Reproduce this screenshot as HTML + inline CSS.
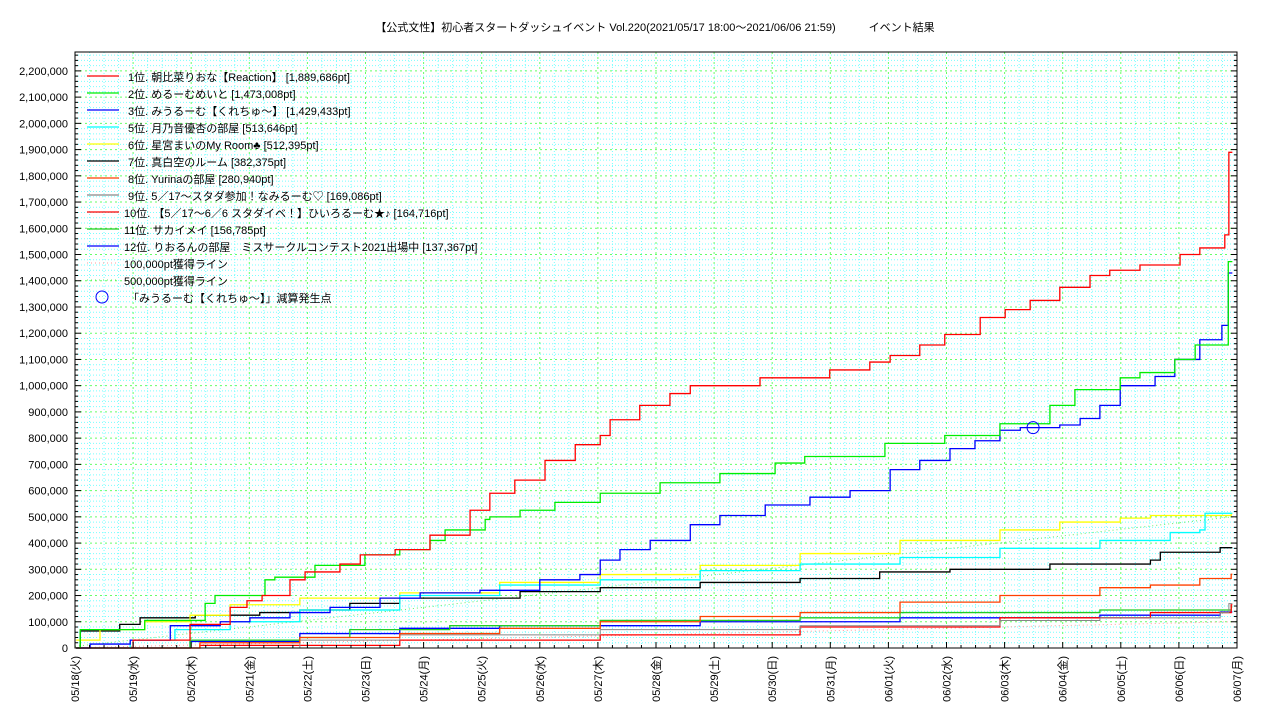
<!DOCTYPE html>
<html><head><meta charset="utf-8">
<style>
html,body{margin:0;padding:0;background:#fff;}
svg{display:block;font-family:"Liberation Sans","Noto Sans CJK JP",sans-serif;}
</style></head>
<body>
<svg id="chart" width="1280" height="720" xmlns="http://www.w3.org/2000/svg">
<rect x="0" y="0" width="1280" height="720" fill="#fff"/>
<text x="655" y="31" font-size="11" text-anchor="middle" fill="#000">【公式文性】初心者スタートダッシュイベント Vol.220(2021/05/17 18:00〜2021/06/06 21:59)　　　イベント結果</text>
<g id="grid"></g>
<g id="ref"></g>
<g id="series"></g>
<g id="axes"></g>
<g id="legend"></g>
</svg>
<script>
const dayLabels = ["05/18(火)","05/19(水)","05/20(木)","05/21(金)","05/22(土)","05/23(日)","05/24(月)","05/25(火)","05/26(水)","05/27(木)","05/28(金)","05/29(土)","05/30(日)","05/31(月)","06/01(火)","06/02(水)","06/03(木)","06/04(金)","06/05(土)","06/06(日)","06/07(月)"];
const yTicks = [0,100000,200000,300000,400000,500000,600000,700000,800000,900000,1000000,1100000,1200000,1300000,1400000,1500000,1600000,1700000,1800000,1900000,2000000,2100000,2200000];
const seriesNames = ["1位. 朝比菜りおな【Reaction】 [1,889,686pt]","2位. めるーむめいと [1,473,008pt]","3位. みうるーむ【くれちゅ〜】 [1,429,433pt]","5位. 月乃音優杏の部屋 [513,646pt]","6位. 星宮まいのMy Room♣ [512,395pt]","7位. 真白空のルーム [382,375pt]","8位. Yurinaの部屋 [280,940pt]","9位. 5／17〜スタダ参加！なみるーむ♡ [169,086pt]","10位. 【5／17〜6／6 スタダイベ！】ひいろるーむ★♪ [164,716pt]","11位. サカイメイ [156,785pt]","12位. りおるんの部屋　ミスサークルコンテスト2021出場中 [137,367pt]"];
const s1 = [[0.02,0],[1.0,30000],[1.98,90000],[2.67,155000],[2.96,180000],[3.22,200000],[3.70,260000],[3.96,290000],[4.56,320000],[4.91,355000],[5.51,375000],[6.11,430000],[6.80,525000],[7.14,590000],[7.57,640000],[8.09,715000],[8.61,775000],[9.04,810000],[9.21,870000],[9.72,925000],[10.24,970000],[10.59,1000000],[11.79,1030000],[12.99,1060000],[13.68,1090000],[14.03,1115000],[14.54,1155000],[14.97,1195000],[15.58,1260000],[16.01,1290000],[16.44,1325000],[16.95,1375000],[17.47,1420000],[17.81,1440000],[18.33,1460000],[19.02,1500000],[19.36,1525000],[19.79,1575000],[19.86,1889686],[19.92,1889686]];
const s2 = [[0.02,0],[0.09,70000],[1.20,105000],[2.24,170000],[2.41,200000],[3.27,260000],[3.44,270000],[4.13,315000],[4.99,355000],[5.59,375000],[6.11,410000],[6.37,450000],[7.06,490000],[7.14,500000],[7.66,525000],[8.26,555000],[9.04,590000],[10.07,630000],[11.10,665000],[12.05,705000],[12.56,730000],[13.94,780000],[14.97,810000],[15.92,855000],[16.78,925000],[17.21,985000],[17.99,1030000],[18.33,1050000],[18.93,1100000],[19.28,1155000],[19.85,1473008],[19.92,1473008]];
const s3 = [[0.02,0],[0.26,15000],[0.95,30000],[1.64,85000],[2.50,100000],[3.01,115000],[3.70,135000],[4.39,155000],[5.25,190000],[5.94,210000],[6.97,220000],[8.00,260000],[8.69,280000],[9.04,335000],[9.38,375000],[9.90,410000],[10.59,470000],[11.10,505000],[11.88,545000],[12.65,575000],[13.34,600000],[14.03,680000],[14.54,715000],[15.06,760000],[15.49,790000],[15.92,830000],[16.27,840000],[16.95,850000],[17.30,875000],[17.64,925000],[17.99,1000000],[18.59,1035000],[18.93,1100000],[19.36,1175000],[19.74,1230000],[19.85,1429433],[19.92,1429433]];
const s5 = [[0.02,0],[0.95,30000],[1.72,70000],[2.67,100000],[3.87,145000],[5.59,200000],[7.31,240000],[9.04,260000],[10.76,295000],[12.48,320000],[14.20,345000],[15.92,380000],[17.64,410000],[18.85,440000],[19.36,450000],[19.45,513646],[19.92,513646]];
const s6 = [[0.02,30000],[0.43,70000],[1.20,100000],[1.98,125000],[2.67,165000],[3.87,190000],[5.59,210000],[7.31,250000],[9.04,280000],[10.76,315000],[12.48,360000],[14.20,410000],[15.92,450000],[16.95,480000],[17.99,495000],[18.51,505000],[19.9,512395],[19.92,512395]];
const s7 = [[0.02,0],[0.09,65000],[0.77,90000],[1.12,115000],[2.07,125000],[3.18,135000],[3.87,145000],[4.73,170000],[5.59,190000],[7.66,215000],[9.04,230000],[10.76,250000],[12.48,265000],[13.85,290000],[15.06,300000],[16.78,320000],[18.51,335000],[18.68,365000],[19.71,382375],[19.92,382375]];
const s8 = [[0.02,0],[2.15,20000],[3.87,40000],[5.59,55000],[7.31,75000],[9.04,100000],[10.76,120000],[12.48,135000],[14.20,175000],[15.92,200000],[17.64,230000],[18.51,240000],[19.36,265000],[19.9,280940],[19.92,280940]];
const s9 = [[0.02,0],[3.87,30000],[5.59,50000],[9.04,70000],[12.48,85000],[15.92,105000],[17.64,115000],[19.71,135000],[19.86,169086],[19.92,169086]];
const s10 = [[0.02,0],[2.15,10000],[5.59,30000],[9.04,50000],[12.48,80000],[15.92,115000],[18.51,135000],[19.9,164716],[19.92,164716]];
const s11 = [[0.02,0],[1.98,30000],[3.87,40000],[4.73,70000],[6.45,85000],[9.04,105000],[12.48,115000],[14.20,135000],[17.64,145000],[19.9,156785],[19.92,156785]];
const s12 = [[0.02,0],[1.98,25000],[3.87,55000],[5.59,75000],[7.31,85000],[10.76,100000],[14.20,115000],[17.64,125000],[19.71,137367],[19.92,137367]];
const refLineTargets = [100000,500000];
const refLineSpan = [-0.25,19.92];
const dropPoint = [16.49,840000];

const L=75,R=1237,T=52,B=648,DAYS=20,YMAX=2272000;
const X=d=>L+(d/DAYS)*(R-L);
const Y=v=>B-(v/YMAX)*(B-T);
const NS="http://www.w3.org/2000/svg";
function mk(tag,parent){const e=document.createElementNS(NS,tag);parent.appendChild(e);return e;}
const grid=document.getElementById('grid'),axes=document.getElementById('axes'),ser=document.getElementById('series'),ref=document.getElementById('ref'),leg=document.getElementById('legend');

for(let q=1;q<DAYS*4;q++){if(q%4===0)continue;const l=mk('line',grid);


const x=X(q/4);l.setAttribute('x1',x);l.setAttribute('x2',x);l.setAttribute('y1',T);l.setAttribute('y2',B);l.setAttribute('stroke','#7ff');l.setAttribute('stroke-width','1');l.setAttribute('stroke-dasharray','1,2');}
for(let v=20000;v<YMAX;v+=20000){if(v%100000===0)continue;const l=mk('line',grid);


const y=Y(v);l.setAttribute('x1',L);l.setAttribute('x2',R);l.setAttribute('y1',y);l.setAttribute('y2',y);l.setAttribute('stroke','#7ff');l.setAttribute('stroke-width','1');l.setAttribute('stroke-dasharray','1,2');}
dayLabels.forEach((lab,i)=>{if(i===0||i===DAYS)return;const l=mk('line',grid);


const x=X(i);l.setAttribute('x1',x);l.setAttribute('x2',x);l.setAttribute('y1',T);l.setAttribute('y2',B);l.setAttribute('stroke','#6f6');l.setAttribute('stroke-dasharray','2,3');});
yTicks.forEach(v=>{if(v===0)return;const l=mk('line',grid);


const y=Y(v);l.setAttribute('x1',L);l.setAttribute('x2',R);l.setAttribute('y1',y);l.setAttribute('y2',y);l.setAttribute('stroke','#6f6');l.setAttribute('stroke-dasharray','2,3');});

const refColors=['#f99','#6e6'];
refLineTargets.forEach((t,i)=>{const l=mk('line',ref);


l.setAttribute('x1',Math.max(L,X(refLineSpan[0])));l.setAttribute('y1',Y(t*(0-refLineSpan[0])/(refLineSpan[1]-refLineSpan[0])));
l.setAttribute('x2',X(refLineSpan[1]));l.setAttribute('y2',Y(t));l.setAttribute('stroke',refColors[i]);l.setAttribute('stroke-dasharray','1,3');});

const allSeries=[s1,s2,s3,s5,s6,s7,s8,s9,s10,s11,s12];
const colors=['#f00','#0e0','#00f','#0ff','#ff0','#000','#ff4000','#888','#f00','#2c2','#00f'];
for(let k=allSeries.length-1;k>=0;k--){const d=allSeries[k];let p='';
d.forEach((pt,i)=>{if(i===0)p+='M'+X(pt[0])+','+Y(pt[1]);else p+='H'+X(pt[0])+'V'+Y(pt[1]);});
const e=mk('path',ser);


e.setAttribute('d',p);e.setAttribute('fill','none');e.setAttribute('stroke',colors[k]);e.setAttribute('stroke-width',k===7?1:1.3);}
const c=mk('circle',ser);


c.setAttribute('cx',X(dropPoint[0]));c.setAttribute('cy',Y(dropPoint[1]));c.setAttribute('r',6);c.setAttribute('fill','none');c.setAttribute('stroke','#00f');

const f=mk('rect',axes);


f.setAttribute('x',L);f.setAttribute('y',T);f.setAttribute('width',R-L);f.setAttribute('height',B-T);f.setAttribute('fill','none');f.setAttribute('stroke','#000');
for(let v=20000;v<YMAX;v+=20000){const t=mk('line',axes);


const y=Y(v),len=v%100000===0?6:3;t.setAttribute('x1',L);t.setAttribute('x2',L+len);t.setAttribute('y1',y);t.setAttribute('y2',y);t.setAttribute('stroke','#000');
const t2=mk('line',axes);


t2.setAttribute('x1',R);t2.setAttribute('x2',R-len);t2.setAttribute('y1',y);t2.setAttribute('y2',y);t2.setAttribute('stroke','#000');}
for(let q=1;q<DAYS*4;q++){const t=mk('line',axes);


const x=X(q/4),len=q%4===0?6:3;t.setAttribute('x1',x);t.setAttribute('x2',x);t.setAttribute('y1',B);t.setAttribute('y2',B-len);t.setAttribute('stroke','#000');}
yTicks.forEach(v=>{const t=mk('text',axes);


t.setAttribute('x',68);t.setAttribute('y',Y(v)+4);t.setAttribute('font-size','11');t.setAttribute('text-anchor','end');t.textContent=v.toLocaleString('en-US');});
dayLabels.forEach((lab,i)=>{const t=mk('text',axes);


const x=X(i)+4;t.setAttribute('transform','translate('+x+',656) rotate(-90)');t.setAttribute('font-size','11');t.setAttribute('text-anchor','end');t.textContent=lab;});

const rowY=i=>77+i*17;
seriesNames.forEach((n,i)=>{const g=mk('g',leg);


const l=mk('line',g);l.setAttribute('x1',87);l.setAttribute('x2',119);l.setAttribute('y1',rowY(i)-1);l.setAttribute('y2',rowY(i)-1);l.setAttribute('stroke',colors[i]);l.setAttribute('stroke-width','1.3');
const t=mk('text',g);t.setAttribute('x',i>=8?124:128);t.setAttribute('y',rowY(i)+4);t.setAttribute('font-size','11');t.textContent=n;});
const extra=["100,000pt獲得ライン","500,000pt獲得ライン"];
extra.forEach((n,j)=>{const i=11+j;const g=mk('g',leg);


const l=mk('line',g);l.setAttribute('x1',87);l.setAttribute('x2',119);l.setAttribute('y1',rowY(i)-1);l.setAttribute('y2',rowY(i)-1);l.setAttribute('stroke',refColors[j]);l.setAttribute('stroke-dasharray','1,3');
const t=mk('text',g);t.setAttribute('x',124);t.setAttribute('y',rowY(i)+4);t.setAttribute('font-size','11');t.textContent=n;});
{const g=mk('g',leg);


const cc=mk('circle',g);cc.setAttribute('cx',102);cc.setAttribute('cy',rowY(13)-1);cc.setAttribute('r',6);cc.setAttribute('fill','none');cc.setAttribute('stroke','#00f');
const t=mk('text',g);t.setAttribute('x',128);t.setAttribute('y',rowY(13)+4);t.setAttribute('font-size','11');t.textContent="「みうるーむ【くれちゅ〜】」減算発生点";}
</script>
</body></html>
